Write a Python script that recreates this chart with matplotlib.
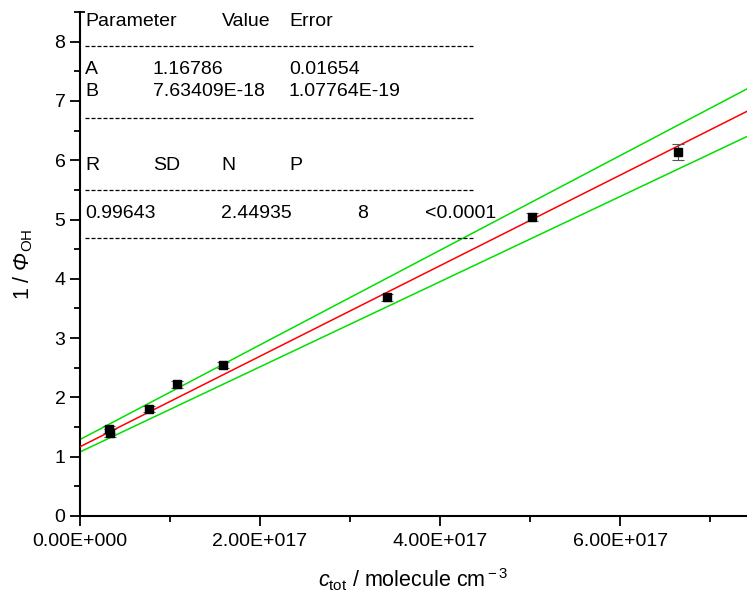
import matplotlib
matplotlib.use("Agg")
import matplotlib.pyplot as plt
import numpy as np
from matplotlib.ticker import FuncFormatter, MultipleLocator

plt.rcParams['font.family'] = ['Liberation Sans', 'DejaVu Sans']
plt.rcParams['mathtext.fontset'] = 'custom'
plt.rcParams['mathtext.rm'] = 'Liberation Sans'
plt.rcParams['mathtext.it'] = 'Liberation Sans:italic'
plt.rcParams['mathtext.sf'] = 'Liberation Sans:italic'

# data (x in molecule cm^-3)
x_vals = [0.32e17, 0.33e17, 0.77e17, 1.08e17, 1.59e17, 3.41e17, 5.02e17, 6.64e17]
y_vals = [1.46, 1.40, 1.80, 2.22, 2.54, 3.69, 5.04, 6.14]
y_err = [0.06, 0.07, 0.05, 0.06, 0.05, 0.06, 0.07, 0.14]

fit_A = 1.16786
fit_B = 7.63409e-18
upper_A, upper_B = 1.29, 7.98e-18
lower_A, lower_B = 1.08, 7.18e-18

table_header = ["Parameter", "Value", "Error"]
table_rows = [["A", "1.16786", "0.01654"], ["B", "7.63409E-18", "1.07764E-19"]]
stat_header = ["R", "SD", "N", "P"]
stat_values = ["0.99643", "2.44935", "8", "<0.0001"]

fig = plt.figure(figsize=(7.47, 5.98), dpi=100)
ax = fig.add_axes([80/747, (598-516)/598, (747-80)/747, (516-12)/598])

xmax = 7.41e17
ax.set_xlim(0, xmax)
ax.set_ylim(0, 8.5)

xx = np.array([0, xmax])
ax.plot(xx, upper_A + upper_B*xx, color='#00e000', lw=1.1, zorder=2)
ax.plot(xx, lower_A + lower_B*xx, color='#00e000', lw=1.1, zorder=2)
ax.plot(xx, fit_A + fit_B*xx, color='#ff0000', lw=1.1, zorder=3)

ax.errorbar(x_vals, y_vals, yerr=y_err, fmt='s', color='black', ms=6,
            ecolor='#555555', elinewidth=0.8, capsize=4, capthick=0.8, zorder=4)

for s in ['top', 'right']:
    ax.spines[s].set_visible(False)
ax.spines['left'].set_linewidth(1.5)
ax.spines['bottom'].set_linewidth(1.5)
# small end tick at top of left spine
ax.plot([0, 0.008], [1, 1], transform=ax.transAxes, color='black', lw=1.3,
        clip_on=False, solid_capstyle='butt')

ax.xaxis.set_major_locator(MultipleLocator(2e17))
ax.xaxis.set_minor_locator(MultipleLocator(1e17))
ax.yaxis.set_major_locator(MultipleLocator(1))
ax.yaxis.set_minor_locator(MultipleLocator(0.5))

def sci(v, pos):
    if v == 0:
        return "0.00E+000"
    e = int(np.floor(np.log10(abs(v)) + 1e-9))
    m = v / 10**e
    return f"{m:.2f}E+{e:03d}"

ax.xaxis.set_major_formatter(FuncFormatter(sci))
ax.tick_params(which='major', length=7, width=1.3, labelsize=14, direction='out')
ax.tick_params(which='minor', length=4, width=1.3, direction='out')
ax.tick_params(axis='x', pad=5)

ax.set_xlabel(r"$\mathit{c}_{\rm tot}$ / molecule cm$^{\rm -3}$", fontsize=15.5, labelpad=12)
ax.set_ylabel(r"1 / $\mathsf{Φ}_{\rm OH}$", fontsize=15.5, labelpad=14)

# table
trans = ax.transAxes
def px(xp, yp):
    return ((xp - 80) / 667, (516 - yp) / 504)

fs = 14
col_x = [85, 222, 289]
for t, cx in zip(table_header, col_x):
    ax.text(*px(cx, 22), t, transform=trans, fontsize=fs, va='center', ha='left')
row_x = [85, 153, 289]
for ry, row in zip([70, 92], table_rows):
    for t, cx in zip(row, row_x):
        ax.text(*px(cx, ry), t, transform=trans, fontsize=fs, va='center', ha='left')
stat_x = [85, 153, 221, 289]
for t, cx in zip(stat_header, stat_x):
    ax.text(*px(cx, 165), t, transform=trans, fontsize=fs, va='center', ha='left')
val_x = [85, 221, 357, 425]
for t, cx in zip(stat_values, val_x):
    ax.text(*px(cx, 213), t, transform=trans, fontsize=fs, va='center', ha='left')

for ly in [46, 118, 190, 238]:
    x0, y0 = px(85, ly)
    x1, _ = px(475, ly)
    ax.plot([x0, x1], [y0, y0], transform=trans, color='black', lw=0.9,
            dashes=(3.2, 1.6), zorder=5)

fig.savefig("out.png", dpi=100)
